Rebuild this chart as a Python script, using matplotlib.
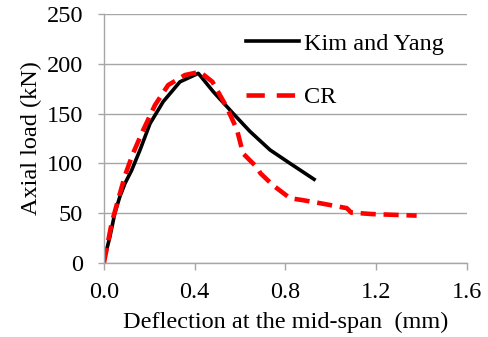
import matplotlib
matplotlib.use("Agg")
import matplotlib.pyplot as plt
from matplotlib.lines import Line2D

kim_x = [0.004, 0.026, 0.048, 0.07, 0.093, 0.122, 0.159, 0.203, 0.261, 0.335, 0.416, 0.482,
         0.57, 0.644, 0.732, 0.82, 0.926]
kim_y = [6, 26, 50, 66.5, 80, 93, 113.5, 140, 162, 182, 190.5, 172,
         150, 132, 113.5, 100, 84]

cr_x = [0.0, 0.034, 0.062, 0.093, 0.128, 0.173, 0.225, 0.283, 0.357, 0.423, 0.478, 0.54, 0.586, 0.613, 0.674,
        0.69, 0.745, 0.82, 0.877, 0.952, 1.07, 1.09, 1.185, 1.378]
cr_y = [0, 40, 63, 88, 110, 133.5, 158.6, 178.7, 188.8, 192, 182, 157, 134, 110, 96,
        90, 78, 65, 63, 60, 55, 50.5, 49, 47.5]

xticks = [0.0, 0.4, 0.8, 1.2, 1.6]
yticks = [0, 50, 100, 150, 200, 250]

plt.rcParams['font.family'] = ['Liberation Serif']
fs = 17.5
fig = plt.figure(figsize=(4.88, 3.37), dpi=100)
ax = fig.add_axes([0.213, 0.22, 0.744, 0.738])

grid_c = '#a6a6a6'
ax.plot(kim_x, kim_y, color='black', lw=2.6, label='Kim and Yang', solid_joinstyle='round')
ax.plot(cr_x, cr_y, color='#ff0000', lw=3.3, dashes=(3.3, 1.7), label='CR')

ax.set_xlim(0, 1.6)
ax.set_ylim(0, 250)
ax.set_xticks(xticks)
ax.set_xticklabels([f"{v:.1f}" for v in xticks])
ax.set_yticks(yticks)
ax.yaxis.grid(True, color=grid_c, lw=1)
ax.set_axisbelow(True)
for s in ['top', 'right']:
    ax.spines[s].set_visible(False)
for s in ['left', 'bottom']:
    ax.spines[s].set_color(grid_c)
    ax.spines[s].set_linewidth(1)
ax.tick_params(axis='both', colors=grid_c, labelcolor='black', labelsize=fs, width=1)
ax.tick_params(axis='x', length=5, pad=9)
ax.tick_params(axis='y', length=4, pad=11)
ax.set_xlabel('Deflection at the mid-span  (mm)', fontsize=fs, labelpad=6)
ax.set_ylabel('Axial load (kN)', fontsize=fs, labelpad=3)
handles = [Line2D([], [], color='black', lw=2.6),
           Line2D([], [], color='#ff0000', lw=3.3, dashes=(4.0, 2.6))]
leg = ax.legend(handles, ['Kim and Yang', 'CR'], loc='upper left', frameon=False, fontsize=fs,
                handlelength=2.2, handletextpad=0.2, labelspacing=1.3, borderpad=0,
                borderaxespad=0, bbox_to_anchor=(0.391, 0.925))
fig.savefig('out.png', dpi=100)
